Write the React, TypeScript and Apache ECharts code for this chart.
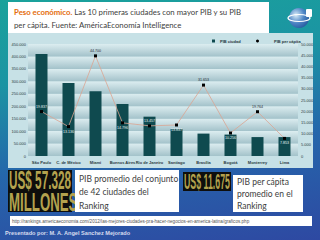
import React, { useEffect, useRef } from "react";
import * as echarts from "echarts";

const categories = ["São Paulo", "C. de México", "Miami", "Buenos Aires", "Rio de Janeiro", "Santiago", "Brasília", "Bogotá", "Monterrey", "Lima"];
const pibCiudad = [410000, 293000, 260000, 209000, 158000, 108000, 90000, 86000, 76000, 76000];
const pibPerCapita = [19837, 13136, 44700, 14796, 13457, 13837, 31653, 10256, 19764, 7853];
const seriesNames = ["PIB ciudad", "PIB per cápita"];
const titleBold = "Peso económico.";
const titleRest1 = " Las 10 primeras ciudades con mayor PIB y su PIB";
const titleLine2 = "per cápita. Fuente: AméricaEconomía Intelligence";
const bigValue1 = ["US$ 57.328", "MILLONES"];
const bigText1 = ["PIB promedio del conjunto", "de 42 ciudades del", "Ranking"];
const bigValue2 = "US$ 11.675";
const bigText2 = ["PIB per cápita", "promedio en el", "Ranking"];
const sourceUrl = "http://rankings.americaeconomia.com/2012/las-mejores-ciudades-pra-hacer-negocios-en-america-latina/graficos.php";
const author = "Presentado por: M. A. Angel Sanchez Mejorado";

// label styling (not data)
const labelPos = ["top", "bottom", "top", "bottom", "top", "bottom", "top", "bottom", "top", "bottom"];
const labelOnBar = [true, true, false, true, true, true, false, true, false, true];

const fmt = (v: number) => String(Math.round(v)).replace(/\B(?=(\d{3})+(?!\d))/g, ".");

export default function App() {
  const ref = useRef<HTMLDivElement>(null);
  useEffect(() => {
    if (!ref.current) return;
    const chart = echarts.init(ref.current, null, { renderer: "svg" });
    const bandGrad = new echarts.graphic.LinearGradient(0, 0, 0, 1, [
      { offset: 0, color: "#dcedf0" },
      { offset: 1, color: "#a3c2ca" },
    ]);
    const small = { fontFamily: "Liberation Sans", fontSize: 4, color: "#2a3a3e" };
    const gold = "#b3a24e";
    const option: any = {
      animation: false,
      backgroundColor: "transparent",
      grid: { left: 28, right: 22, top: 44, bottom: 84 },
      legend: [
        {
          data: [{ name: seriesNames[0], icon: "rect" }],
          left: 207, top: 34, itemWidth: 3, itemHeight: 3, itemGap: 4,
          textStyle: { ...small, fontWeight: "bold" },
        },
        {
          data: [{ name: seriesNames[1], icon: "circle" }],
          left: 251, top: 34, itemWidth: 3, itemHeight: 3,
          textStyle: { ...small, fontWeight: "bold", padding: [0, 0, 0, 10] },
        },
      ],
      xAxis: {
        type: "category",
        data: categories,
        axisLine: { show: false },
        axisTick: { show: false },
        axisLabel: { ...small, fontWeight: "bold", interval: 0, margin: 4 },
      },
      yAxis: [
        {
          type: "value", min: 0, max: 450000, interval: 50000,
          axisLine: { show: false }, axisTick: { show: false },
          axisLabel: { ...small, margin: 2, formatter: (v: number) => fmt(v) },
          splitLine: { show: false },
          splitArea: { show: true, areaStyle: { color: [bandGrad] } },
        },
        {
          type: "value", min: 0, max: 50000, interval: 5000,
          axisLine: { show: false }, axisTick: { show: false },
          axisLabel: { ...small, margin: 3, formatter: (v: number) => fmt(v) },
          splitLine: { show: false },
        },
      ],
      series: [
        {
          name: seriesNames[0], type: "bar", data: pibCiudad, barWidth: 12,
          itemStyle: { color: "#0f4a4f" },
        },
        {
          name: seriesNames[1], type: "line", yAxisIndex: 1, z: 5,
          symbol: "rect", symbolSize: 3,
          lineStyle: { color: "#dba592", width: 0.8 },
          itemStyle: { color: "#000" },
          data: pibPerCapita.map((v, i) => ({
            value: v,
            label: {
              show: true,
              position: labelPos[i],
              distance: 1.5,
              fontFamily: "Liberation Sans",
              fontSize: 3.6,
              color: labelOnBar[i] ? "#e8f4f6" : "#1e2b2e",
              formatter: () => fmt(v),
            },
          })),
        },
      ],
      graphic: [
        // chart panel
        { type: "rect", z: -10, shape: { x: 8, y: 33, width: 305, height: 135 }, style: { fill: "#c7e1e6" } },
        // title box
        { type: "rect", shape: { x: 8, y: 2, width: 261, height: 31 }, style: { fill: "#ffffff" } },
        {
          type: "text", x: 14, y: 5.5,
          style: {
            text: "{o|" + titleBold + "}{n|" + titleRest1 + "}\n{n|" + titleLine2 + "}",
            rich: {
              o: { fontFamily: "Lato", fontSize: 7.8, fontWeight: "bold", fill: "#e46c0a", lineHeight: 13 },
              n: { fontFamily: "Lato", fontSize: 7.8, fill: "#404040", lineHeight: 13 },
            },
          },
        },
        // logo
        { type: "circle", shape: { cx: 299, cy: 18, r: 10 }, style: { fill: new echarts.graphic.RadialGradient(0.35, 0.35, 0.8, [{ offset: 0, color: "#d8ecf8" }, { offset: 0.5, color: "#4f86c6" }, { offset: 1, color: "#1e4f96" }]) } },
        { type: "ellipse", shape: { cx: 299, cy: 18, rx: 11, ry: 3.5 }, style: { fill: "none", stroke: "#ffffff", lineWidth: 1.2 } },
        { type: "rect", shape: { x: 306, y: 9, width: 6, height: 8, r: 1 }, style: { fill: "#ffffff" } },
        // big value 1
        { type: "rect", shape: { x: 8, y: 170, width: 64, height: 42 }, style: { fill: "#0e0e0c" } },
        { type: "text", x: 9, y: 167.5, scaleX: 0.47, style: { text: bigValue1[0], fontFamily: "Liberation Sans", fontWeight: "bold", fontSize: 25, fill: gold } },
        { type: "text", x: 9, y: 189.5, scaleX: 0.53, style: { text: bigValue1[1], fontFamily: "Liberation Sans", fontWeight: "bold", fontSize: 25, fill: gold } },
        { type: "rect", shape: { x: 75, y: 170, width: 104, height: 42 }, style: { fill: "#ffffff" } },
        { type: "text", x: 79, y: 172, style: { text: bigText1.join("\n"), fontFamily: "Lato", fontSize: 8.5, lineHeight: 13.5, fill: "#404040" } },
        // big value 2
        { type: "rect", shape: { x: 183, y: 172, width: 48, height: 19 }, style: { fill: "#0e0e0c" } },
        { type: "text", x: 184, y: 170.5, scaleX: 0.4, style: { text: bigValue2, fontFamily: "Liberation Sans", fontWeight: "bold", fontSize: 22, fill: gold } },
        { type: "rect", shape: { x: 233, y: 175, width: 70, height: 37 }, style: { fill: "#ffffff" } },
        { type: "text", x: 237, y: 176, style: { text: bigText2.join("\n"), fontFamily: "Lato", fontSize: 8.5, lineHeight: 12, fill: "#404040" } },
        // source url
        { type: "rect", shape: { x: 10, y: 216, width: 302, height: 10 }, style: { fill: "#ffffff" } },
        { type: "text", x: 12, y: 218.5, style: { text: sourceUrl, fontFamily: "Liberation Sans", fontSize: 4.6, fill: "#555555" } },
        // author
        { type: "text", x: 5, y: 230, style: { text: author, fontFamily: "Liberation Sans", fontWeight: "bold", fontSize: 5.6, fill: "#d6dcef" } },
      ],
    };
    chart.setOption(option);
    return () => chart.dispose();
  }, []);
  return (
    <div
      ref={ref}
      style={{
        position: "absolute", left: 0, top: 0, width: 320, height: 240,
        background: "linear-gradient(172deg, #1aa29b 0%, #1b94a3 30%, #2566ab 62%, #2e49a2 100%)",
      }}
    />
  );
}
